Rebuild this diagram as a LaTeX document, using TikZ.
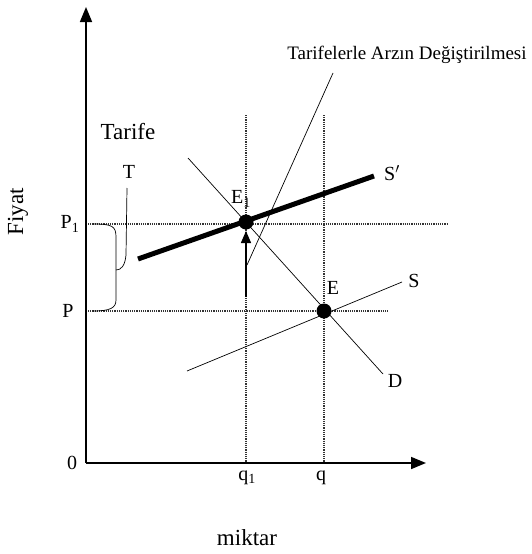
\documentclass[tikz,border=0pt]{standalone}
\usepackage{fontspec}
\setmainfont{Liberation Serif}
\usetikzlibrary{arrows.meta}

\tikzset{
  axisline/.style={line width=1.6pt,-{Triangle[length=15pt,width=12pt]}},
  guideline/.style={line width=1.1pt,dash pattern=on 1.2pt off 1pt,draw=black!80},
  curveline/.style={line width=0.7pt},
  eqdot/.style={circle,fill=black,inner sep=0pt,minimum size=15pt},
  lbl/.style={inner sep=0pt,font=\fontsize{20}{24}\selectfont},
  biglbl/.style={inner sep=0pt,font=\fontsize{23}{27}\selectfont}
}

\begin{document}
\begin{tikzpicture}[x=1pt,y=-1pt]
\path[use as bounding box] (0,0) rectangle (531,554);

% axes
\coordinate (O) at (86,463);
\coordinate (ytop) at (86,7);
\coordinate (xend) at (426,463);
\draw[axisline] (O) -- (ytop);
\draw[axisline] (O) -- (xend);

% guide lines at the two prices and quantities
\coordinate (p1a) at (88,224);
\coordinate (p1b) at (447,224);
\coordinate (pa) at (88,311);
\coordinate (pb) at (389,311);
\coordinate (q1a) at (246,115);
\coordinate (q1b) at (246,462);
\coordinate (qa) at (324,115);
\coordinate (qb) at (324,462);
\draw[guideline] (p1a) -- (p1b);
\draw[guideline] (pa) -- (pb);
\draw[guideline] (q1a) -- (q1b);
\draw[guideline] (qa) -- (qb);

% demand and supply
\coordinate (Dtop) at (188,158);
\coordinate (Dend) at (383,374);
\coordinate (Sstart) at (187,371);
\coordinate (Send) at (402,282);
\coordinate (S2start) at (138,259);
\coordinate (S2end) at (374,176);
\draw[curveline] (Dtop) -- (Dend);
\draw[curveline] (Sstart) -- (Send);
\draw[line width=5pt] (S2start) -- (S2end);

% equilibria
\node[eqdot] (E1) at (246,222) {};
\node[eqdot] (E) at (324,311) {};

% shift arrow
\coordinate (arrfoot) at (246,297);
\coordinate (arrtip) at (246,231);
\draw[line width=1.4pt,-{Triangle[length=12pt,width=10pt]}] (arrfoot) -- (arrtip);

% label of the shift
\node[inner sep=0pt,font=\fontsize{19}{22}\selectfont] (shiftlbl) at (407,55) {Tarifelerle Arzın Değiştirilmesi};
\coordinate (shifttop) at (333,73);
\coordinate (shiftfoot) at (247,265);
\draw[curveline] (shifttop) -- (shiftfoot);

% tariff brace
\node[biglbl] (tarife) at (128,132) {Tarife};
\node[lbl] (T) at (129,172) {T};
\coordinate (Tfoot) at (127,188);
\coordinate (bracetip) at (116,270);
\draw[curveline] (Tfoot) -- (126,255) .. controls (125,266) and (121,270) .. (bracetip);
\draw[curveline] (93,224) .. controls (112,224) and (116,226) .. (116,237) -- (116,300)
  .. controls (116,308) and (110,311) .. (93,311);

% axis labels
\node[lbl] (zero) at (72,463) {0};
\node[lbl] (P1) at (70,224) {P\textsubscript{1}};
\node[lbl] (P) at (68,311) {P};
\node[lbl] (q1) at (247,478) {q\textsubscript{1}};
\node[lbl] (q) at (321,478) {q};
\node[biglbl] (miktar) at (247,538) {miktar};
\node[biglbl,rotate=90] (fiyat) at (18,212) {Fiyat};

% curve and point labels
\node[lbl] (E1lbl) at (241,199) {E\textsubscript{1}};
\node[lbl] (Elbl) at (333,288) {E};
\node[lbl] (S2lbl) at (392,173) {S$'$};
\node[lbl] (Slbl) at (414,281) {S};
\node[lbl] (Dlbl) at (395,381) {D};
\end{tikzpicture}
\end{document}
